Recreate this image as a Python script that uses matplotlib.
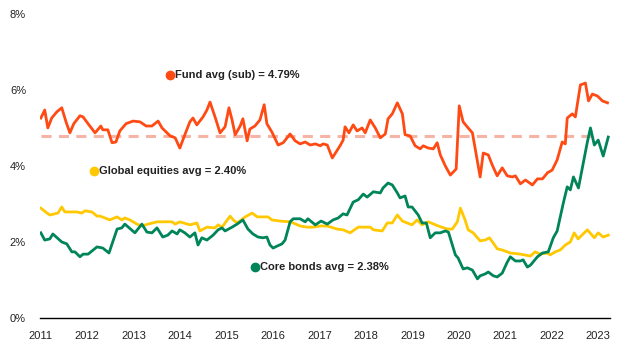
import numpy as np
import matplotlib
matplotlib.use("Agg")
import matplotlib.pyplot as plt

plt.rcParams['font.family'] = ['Liberation Sans', 'DejaVu Sans']

# monthly series, x is months since Jan 2011
fund_months = [0.0, 1.0, 1.8, 2.8, 4.1, 5.4, 6.5, 7.5, 8.5, 10.1, 10.9, 12.2, 14.0, 15.5, 16.0, 17.3,
               18.4, 19.4, 20.4, 22.0, 23.8, 25.6, 27.2, 28.7, 30.3, 31.3, 33.4, 34.7, 35.9, 37.2,
               38.5, 39.3, 40.3, 41.9, 42.9, 43.7, 45.0, 46.3, 47.6, 48.6, 49.4, 50.2, 51.5, 52.2,
               53.3, 54.0, 55.3, 56.6, 57.7, 58.4, 59.7, 61.3, 62.6, 64.4, 65.7, 67.0, 68.3, 69.6,
               70.9, 72.2, 72.9, 74.0, 75.3, 77.3, 78.1, 78.6, 79.6, 80.7, 81.7, 83.0, 83.8, 85.1,
               86.4, 87.7, 89.0, 89.7, 90.8, 92.1, 93.4, 94.1, 95.4, 96.7, 98.0, 98.8, 100.1, 101.4,
               102.4, 103.2, 104.5, 105.8, 107.3, 108.1, 109.1, 110.4, 111.5, 112.5, 113.5, 114.3,
               115.6, 116.6, 117.9, 119.2, 120.5, 121.8, 122.6, 123.9, 125.2, 127.0, 128.3, 129.6,
               130.9, 132.1, 133.4, 134.7, 135.5, 136.0, 137.3, 138.1, 139.4, 140.7, 141.5, 142.5,
               143.8, 145.1, 146.4]
fund_vals = [5.26, 5.47, 5.00, 5.26, 5.42, 5.53, 5.16, 4.87, 5.11, 5.32, 5.29, 5.11, 4.87, 5.05, 4.95, 4.95,
             4.61, 4.63, 4.92, 5.11, 5.18, 5.16, 5.05, 5.05, 5.18, 5.00, 4.79, 4.74, 4.47, 4.82,
             5.16, 5.26, 5.08, 5.29, 5.47, 5.68, 5.29, 4.87, 5.03, 5.53, 5.21, 4.82, 5.05, 5.24,
             4.66, 4.97, 5.05, 5.21, 5.61, 5.11, 4.89, 4.55, 4.61, 4.84, 4.66, 4.58, 4.63, 4.55,
             4.58, 4.53, 4.58, 4.55, 4.21, 4.53, 4.68, 5.03, 4.87, 5.08, 4.92, 5.00, 4.87, 5.21,
             5.00, 4.74, 4.84, 5.24, 5.37, 5.66, 5.37, 4.82, 4.79, 4.53, 4.45, 4.53, 4.47, 4.45,
             4.61, 4.29, 4.00, 3.76, 3.92, 5.58, 5.16, 5.00, 4.87, 4.29, 3.71, 4.34,
             4.29, 4.03, 3.74, 3.95, 3.74, 3.71, 3.74, 3.53, 3.63, 3.50, 3.66, 3.66,
             3.82, 3.89, 4.16, 4.63, 4.58, 5.26, 5.37, 5.29, 6.13, 6.18, 5.71, 5.89,
             5.84, 5.71, 5.66]

equity_months = [0.0, 1.6, 2.3, 4.4, 5.4, 6.2, 9.3, 10.6, 11.4, 13.2, 14.5, 15.3, 16.6, 17.8, 19.7, 20.9,
                 21.7, 23.0, 24.8, 26.1, 27.7, 30.0, 33.9, 34.7, 35.9, 38.5, 40.3, 41.1, 42.9, 45.0,
                 45.8, 46.8, 48.9, 49.7, 50.7, 52.8, 54.6, 55.9, 58.7, 59.7, 61.8, 64.4, 65.2, 67.0,
                 68.8, 70.3, 72.2, 74.0, 76.5, 78.1, 79.9, 82.0, 85.1, 85.9, 88.2, 89.5, 90.8, 92.1,
                 93.4, 95.9, 97.2, 98.5, 100.1, 102.7, 105.0, 106.3, 107.6, 108.4, 109.6, 110.4,
                 111.7, 113.5, 114.8, 115.9, 116.9, 117.9, 119.2, 121.3, 123.9, 126.5, 127.7, 129.0,
                 130.9, 131.6, 132.9, 134.2, 135.5, 136.8, 137.8, 138.8, 141.2, 143.0, 144.0, 145.3,
                 146.6]
equity_vals = [2.89, 2.76, 2.71, 2.76, 2.92, 2.79, 2.79, 2.76, 2.82, 2.79, 2.68, 2.68, 2.63, 2.58, 2.66, 2.58,
               2.63, 2.58, 2.47, 2.42, 2.47, 2.53, 2.53, 2.47, 2.53, 2.45, 2.50, 2.29, 2.39, 2.37,
               2.45, 2.39, 2.68, 2.58, 2.50, 2.66, 2.76, 2.66, 2.66, 2.58, 2.55, 2.53, 2.50, 2.42,
               2.39, 2.39, 2.42, 2.42, 2.34, 2.32, 2.24, 2.39, 2.39, 2.32, 2.29, 2.50, 2.50, 2.71,
               2.55, 2.45, 2.58, 2.45, 2.53, 2.42, 2.34, 2.34, 2.53, 2.89, 2.58, 2.32,
               2.24, 2.03, 2.05, 2.11, 1.97, 1.82, 1.79, 1.71, 1.68, 1.63, 1.74, 1.68,
               1.71, 1.66, 1.74, 1.79, 1.92, 2.00, 2.24, 2.08, 2.32, 2.11, 2.24, 2.13,
               2.18]

bond_months = [0.0, 1.0, 2.3, 3.1, 5.4, 6.7, 8.0, 8.8, 10.1, 10.9, 12.2, 14.5, 16.0, 17.6, 19.7, 20.9,
               21.7, 24.3, 26.1, 27.4, 28.7, 30.0, 31.5, 32.8, 33.9, 35.2, 35.9, 37.2, 38.5, 39.8,
               40.6, 41.6, 42.9, 44.5, 45.8, 46.8, 47.6, 49.4, 50.7, 52.2, 53.5, 54.8, 56.1, 57.4,
               58.4, 59.2, 60.0, 61.0, 62.3, 63.1, 64.4, 65.2, 67.0, 68.3, 69.0, 70.9, 72.4, 74.0,
               75.5, 76.8, 78.1, 79.1, 80.7, 82.0, 83.3, 84.3, 85.9, 87.7, 88.4, 89.7, 90.8, 92.1,
               92.8, 94.1, 94.9, 95.9, 97.5, 98.5, 99.6, 100.6, 101.9, 103.2, 104.5, 105.3, 107.1,
               107.8, 109.1, 110.2, 111.5, 112.8, 113.5, 114.8, 115.6, 116.9, 117.9, 119.2, 120.5,
               121.3, 122.6, 123.9, 124.6, 125.7, 126.5, 128.3, 129.6, 131.1, 132.4, 133.4, 135.0,
               136.0, 136.8, 137.6, 138.9, 141.2, 142.0, 143.0, 144.0, 145.3, 146.6]
bond_vals = [2.24, 2.05, 2.08, 2.21, 2.00, 1.95, 1.74, 1.74, 1.61, 1.68, 1.68, 1.87, 1.84, 1.71, 2.34, 2.37,
             2.47, 2.24, 2.47, 2.26, 2.24, 2.37, 2.13, 2.18, 2.29, 2.21, 2.32, 2.24, 2.13, 2.24,
             1.92, 2.11, 2.05, 2.18, 2.32, 2.37, 2.29, 2.39, 2.47, 2.58, 2.34, 2.21, 2.13, 2.11,
             2.13, 1.92, 1.84, 1.89, 1.95, 2.05, 2.53, 2.61, 2.61, 2.53, 2.61, 2.45, 2.55, 2.47,
             2.58, 2.63, 2.74, 2.71, 3.05, 3.11, 3.26, 3.18, 3.32, 3.29, 3.42, 3.55, 3.50, 3.29,
             3.16, 3.21, 2.92, 2.92, 2.71, 2.50, 2.50, 2.11, 2.24, 2.24, 2.29, 2.26, 1.66,
             1.58, 1.29, 1.32, 1.26, 1.03, 1.11, 1.16, 1.21, 1.11, 1.08, 1.18, 1.47,
             1.61, 1.50, 1.50, 1.53, 1.34, 1.39, 1.61, 1.71, 1.74, 2.11, 2.29, 3.03,
             3.45, 3.37, 3.71, 3.42, 4.63, 5.00, 4.55, 4.68, 4.26, 4.76]

fund_avg = 4.79
years = list(range(2011, 2024))
y_ticks = [0, 2, 4, 6, 8]

orange = '#FF4A14'
yellow = '#FFC800'
green = '#00845A'
dash_col = '#F7B3A3'
text_col = '#222222'


def to_year(months):
    return 2011 + np.array(months) / 12.0


fig = plt.figure(figsize=(6.24, 3.5), dpi=100)
ax = fig.add_axes([0.064, 0.0914, 0.914, 0.869])

# average line for the fund
ax.hlines(fund_avg, 2011, 2023, colors=dash_col, linewidth=2.2,
          linestyles=(0, (3.3, 2.4)), zorder=1)

ax.plot(to_year(equity_months), equity_vals, color=yellow, linewidth=2, zorder=2)
ax.plot(to_year(bond_months), bond_vals, color=green, linewidth=2, zorder=3)
ax.plot(to_year(fund_months), fund_vals, color=orange, linewidth=2, zorder=4)

# inline labels with a coloured dot
labels = [
    (2013.78, 6.39, orange, 'Fund avg (sub) = 4.79%'),
    (2012.14, 3.87, yellow, 'Global equities avg = 2.40%'),
    (2015.61, 1.34, green, 'Core bonds avg = 2.38%'),
]
for lx, ly, col, txt in labels:
    ax.plot(lx, ly, 'o', color=col, markersize=6, zorder=5)
    ax.annotate(txt, (lx, ly), xytext=(3.5, 0), textcoords='offset points',
                va='center', ha='left', fontsize=8, fontweight='bold', color=text_col)

ax.set_xlim(2010.98, 2023.26)
ax.set_ylim(0, 8)
ax.set_xticks(years)
ax.set_xticklabels([str(y) for y in years])
ax.set_yticks(y_ticks)
ax.set_yticklabels([f'{v}%' for v in y_ticks])
ax.tick_params(axis='both', length=0, labelsize=8, colors=text_col)
ax.tick_params(axis='x', pad=9)
ax.tick_params(axis='y', pad=10)

for side in ['top', 'right', 'left']:
    ax.spines[side].set_visible(False)
ax.spines['bottom'].set_color('black')
ax.spines['bottom'].set_linewidth(1)

fig.savefig('out.png', dpi=100)
